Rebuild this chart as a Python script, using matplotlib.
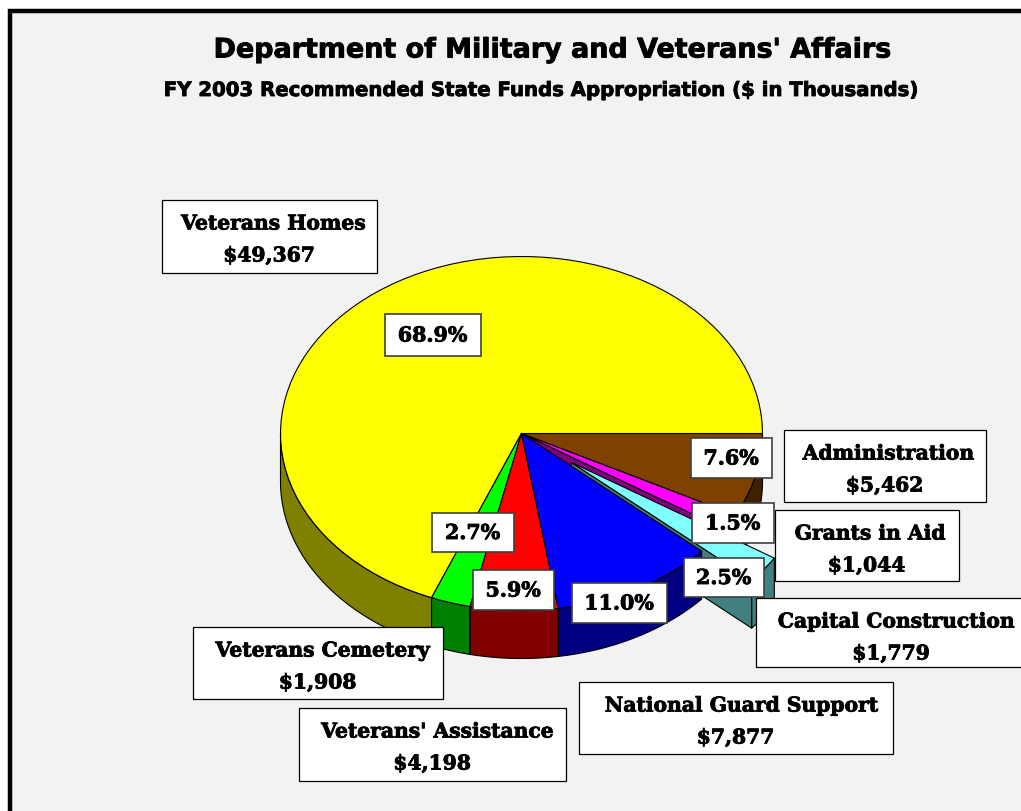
import numpy as np
import matplotlib
matplotlib.use("Agg")
import matplotlib.pyplot as plt
from matplotlib.patches import Polygon, Rectangle
import matplotlib.patheffects as pe

# data
categories = ["Administration", "Grants in Aid", "Capital Construction", "National Guard Support",
              "Veterans' Assistance", "Veterans Cemetery", "Veterans Homes"]
amounts = [5462, 1044, 1779, 7877, 4198, 1908, 49367]
amount_labels = ["$5,462", "$1,044", "$1,779", "$7,877", "$4,198", "$1,908", "$49,367"]
pct_labels = ["7.6%", "1.5%", "2.5%", "11.0%", "5.9%", "2.7%", "68.9%"]

top_colors = ["#804000", "#ff00ff", "#80ffff", "#0000ff", "#ff0000", "#00ff00", "#ffff00"]
side_colors = ["#402000", "#800080", "#408080", "#000080", "#800000", "#008000", "#808000"]

# name box x0, y0, x1, y1 (pixels)
name_boxes = [(783, 430, 985, 502), (774, 510, 958, 581), (755, 598, 1026, 667), (578, 682, 892, 754),
              (298, 708, 565, 781), (192, 627, 442, 699), (161, 200, 376, 273)]
pct_boxes = [(690, 438, 771, 478), (691, 503, 773, 543), (683, 558, 763, 597), (571, 583, 666, 623),
             (472, 570, 553, 610), (431, 513, 513, 552), (384, 314, 480, 356)]

cx, cy = 521, 434
rx, ry = 241, 177
depth = 48
explode = (50, 29)  # capital construction is pulled out
SERIF = "DejaVu Serif"
SANS = "DejaVu Sans"

fig = plt.figure(figsize=(10.21, 8.12), dpi=100, facecolor="white")
ax = fig.add_axes([0, 0, 1, 1])
ax.set_xlim(-0.5, 1020.5)
ax.set_ylim(811.5, -0.5)
ax.axis("off")

# background frame
ax.add_patch(Rectangle((9.5, 11), 1030, 820, fc="#f2f2f2", ec="black", lw=3.2))

edges = np.cumsum([0] + amounts) / sum(amounts) * 2 * np.pi


def rim(a1, a2, ox=0, oy=0, dz=0):
    t = np.linspace(a1, a2, 80)
    return np.column_stack([cx + ox + rx * np.cos(t), cy + oy + dz + ry * np.sin(t)])


def poly(pts, color):
    ax.add_patch(Polygon(pts, closed=True, fc=color, ec="black", lw=0.8, joinstyle="round"))


def side(i, ox=0, oy=0):
    a1, a2 = edges[i], edges[i + 1]
    a2 = min(a2, np.pi)
    if a2 > a1:
        poly(np.vstack([rim(a1, a2, ox, oy), rim(a1, a2, ox, oy, depth)[::-1]]), side_colors[i])


def top(i, ox=0, oy=0):
    poly(np.vstack([[cx + ox, cy + oy], rim(edges[i], edges[i + 1], ox, oy)]), top_colors[i])


def cut(i, a, ox=0, oy=0):
    p = rim(a, a, ox, oy)[0]
    c = [cx + ox, cy + oy]
    poly([c, p, [p[0], p[1] + depth], [c[0], c[1] + depth]], side_colors[i])


# back to front
side(0)
side(1)
cut(1, edges[2])
top(0)
top(1)

# exploded slice, its cut face goes under the blue slice
side(2, *explode)
cut(2, edges[3], *explode)
top(2, *explode)

for i in [6, 5, 4, 3]:
    side(i)
for i in [6, 5, 4, 3]:
    top(i)

# text
fx = [pe.withStroke(linewidth=0.6, foreground="black")]
ax.text(551, 51, "Department of Military and Veterans' Affairs", ha="center", va="center",
        family=SANS, weight="bold", fontsize=19.4, path_effects=fx)
ax.text(541, 91, "FY 2003 Recommended State Funds Appropriation ($ in Thousands)", ha="center", va="center",
        family=SANS, weight="bold", fontsize=14.2, path_effects=fx)

for name, amt, b in zip(categories, amount_labels, name_boxes):
    ax.add_patch(Rectangle((b[0], b[1]), b[2] - b[0], b[3] - b[1], fc="white", ec="black", lw=0.9))
    xc = (b[0] + b[2]) / 2
    ax.text(xc + 0.02 * (b[2] - b[0]), b[1] + 24, name, ha="center", va="center", family=SERIF,
            weight="bold", fontsize=14.6, path_effects=fx)
    ax.text(xc, b[1] + 56, amt, ha="center", va="center", family=SERIF, weight="bold",
            fontsize=14.6, path_effects=fx)

for lab, b in zip(pct_labels, pct_boxes):
    ax.add_patch(Rectangle((b[0], b[1]), b[2] - b[0], b[3] - b[1], fc="white", ec="#404040", lw=1.2))
    ax.text((b[0] + b[2]) / 2, (b[1] + b[3]) / 2 + 1, lab, ha="center", va="center", family=SERIF,
            weight="bold", fontsize=14.8, path_effects=fx)

fig.savefig("out.png", dpi=100)
